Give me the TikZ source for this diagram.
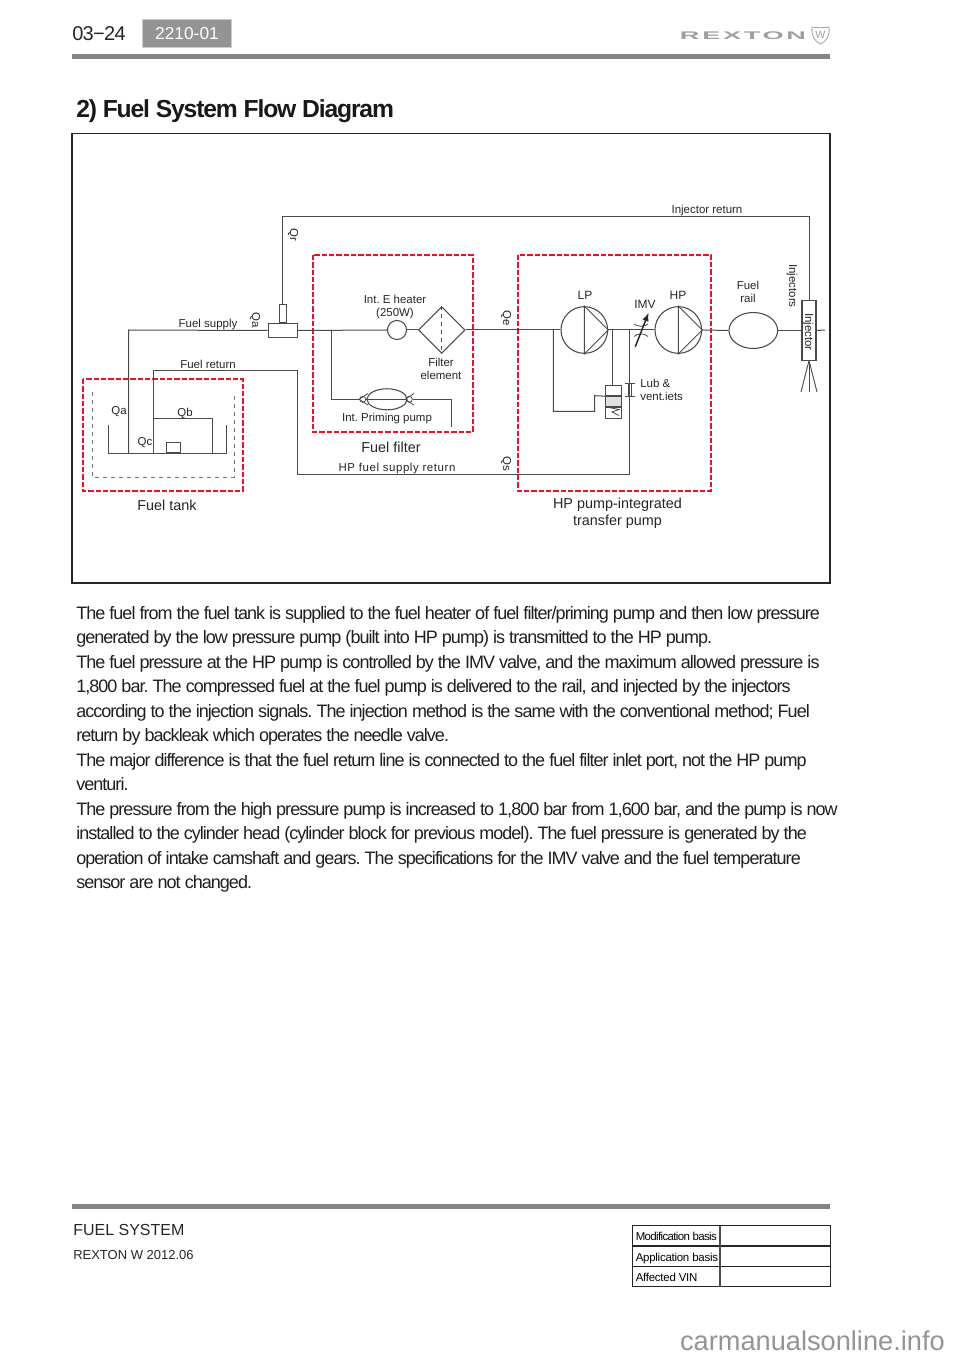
\documentclass[tikz,border=0pt]{standalone}
\usepackage{fontspec}
\usetikzlibrary{shapes.geometric}
\setmainfont{Liberation Sans}
\newfontfamily\bodyfont[LetterSpace=-5.35]{Liberation Sans}
\newfontfamily\titlefont[LetterSpace=-4.6]{Liberation Sans}
\definecolor{linegray}{HTML}{4A4A4A}
\definecolor{barred}{HTML}{E8122A}
\definecolor{bargray}{HTML}{858585}
\frenchspacing
\tikzstyle{pipe}=[linegray, line width=0.75pt]
\tikzstyle{redbox}=[barred, line width=1.7pt, dash pattern=on 4pt off 1.5pt]
\tikzstyle{small}=[inner sep=0pt, font=\fontsize{8.6}{10}\selectfont, text=black!85]
\tikzstyle{big}=[inner sep=0pt, font=\fontsize{10.8}{13}\selectfont, text=black!85]
\tikzstyle{pump}=[draw=linegray, line width=0.8pt, circle, inner sep=0pt, minimum size=35pt]
\tikzstyle{cell}=[inner sep=0pt, anchor=base west, font=\fontsize{8.6}{10}\selectfont\addfontfeature{LetterSpace=-2.2}]

\begin{document}
\begin{tikzpicture}[x=0.75pt, y=-0.75pt]
	\useasboundingbox (0,0) rectangle (960,1358);

	\fill[bargray] (72,54.5) rectangle (830,59.5);
	\fill[bargray] (72,1204) rectangle (830,1208.5);
	\node[inner sep=0pt, anchor=base west, font=\fontsize{15}{18}\selectfont\addfontfeature{LetterSpace=-3.5}, text=black!85] (pagenum) at (72,41) {03−24};
	\node[draw=black!20, fill=black!42, line width=0.8pt, text=white, inner sep=0pt, minimum width=67pt, minimum height=21pt, font=\fontsize{13}{16}\selectfont] (section) at (187,33.5) {2210-01};
	\node[inner sep=0pt, xscale=2.45, text=black!38, font=\fontsize{8.3}{10}\bfseries\selectfont\addfontfeature{LetterSpace=10}] (logotext) at (743,35.5) {REXTON};
	\draw[black!38, line width=0.6pt] (812,27) .. controls (817,28) and (824,28) .. (829,27) .. controls (830,35) and (827,41) .. (820.5,44) .. controls (814,41) and (811,35) .. (812,27) -- cycle;
	\node[inner sep=0pt, text=black!38, font=\fontsize{8}{10}\selectfont] (logomark) at (820.5,34.5) {W};
	\node[inner sep=0pt, anchor=base west, font=\fontsize{18.5}{22}\bfseries\selectfont\titlefont, text=black!90] (title) at (76,118) {2) Fuel System Flow Diagram};
	\draw[black!85, line width=1.1pt] (72,133.5) rectangle (830,583);

	\draw[redbox] (83,379) rectangle (243,491);
	\draw[redbox] (313,255) rectangle (473,432);
	\draw[redbox] (518,255) rectangle (711,491);

	\draw[black!55, line width=0.6pt, dashed] (92,392) -- (92,477) -- (234,477) -- (234,392);
	\draw[pipe] (108,425) -- (108,453) -- (226,453) -- (226,425);

	\coordinate (supplyfoot) at (128.5,453);
	\coordinate (returnfoot) at (153.5,453);
	\coordinate (supplycorner) at (128.5,330);
	\coordinate (returncorner) at (153.5,371);
	\coordinate (returnbend) at (297.5,371);
	\coordinate (returnlow) at (297.5,474);
	\coordinate (returnend) at (629.3,474);
	\coordinate (returnjoin) at (629.3,330);
	\coordinate (qbtop) at (153.5,418);
	\coordinate (qbcorner) at (212.7,418);
	\coordinate (qbfoot) at (212.7,453);
	\coordinate (primejoin) at (331.7,330);
	\coordinate (primecorner) at (331.7,399.3);
	\coordinate (primeright) at (451.7,399.3);
	\coordinate (primeend) at (451.7,426.7);
	\coordinate (bypassjoin) at (553.3,330);
	\coordinate (bypasscorner) at (553.3,411.3);
	\coordinate (valvejoin) at (612.3,330);
	\coordinate (injreturn) at (282.7,216.5);
	\coordinate (injcorner) at (809,216.5);
	\coordinate (lineend) at (825,330);

	\node[draw=linegray, line width=0.8pt, fill=white, inner sep=0pt, minimum width=22pt, minimum height=10pt] (tee) at (282.7,330.5) {};
	\node[draw=linegray, line width=0.8pt, inner sep=0pt, minimum width=5pt, minimum height=13.5pt, anchor=south] (teeup) at (tee.north) {};
	\node[draw=linegray, line width=0.8pt, inner sep=0pt, minimum width=11pt, minimum height=7.5pt, anchor=south] (strainer) at (173.5,453) {};
	\node[draw=linegray, line width=0.8pt, circle, inner sep=0pt, minimum size=14.3pt] (heater) at (397,330) {};
	\node[draw=linegray, line width=0.8pt, diamond, aspect=1, inner sep=0pt, minimum size=35pt] (filter) at (441.7,330) {};
	\node[draw=linegray, line width=0.8pt, ellipse, inner sep=0pt, minimum width=30pt, minimum height=15.8pt] (primer) at (387,399.3) {};
	\node[draw=linegray, line width=0.6pt, circle, inner sep=0pt, minimum size=4.5pt] (checkleft) at (362.7,399.3) {};
	\node[draw=linegray, line width=0.6pt, circle, inner sep=0pt, minimum size=4.5pt] (checkright) at (409.3,399.3) {};
	\node[pump] (lppump) at (584.3,330) {};
	\node[pump] (hppump) at (678.3,330) {};
	\node[draw=linegray, line width=0.8pt, ellipse, inner sep=0pt, minimum width=36.5pt, minimum height=27pt] (rail) at (753.3,330.5) {};
	\node[draw=linegray, line width=0.8pt, fill=white, inner sep=0pt, minimum width=10.5pt, minimum height=44.5pt] (injector) at (809,330.5) {};
	\node[draw=linegray, line width=0.6pt, inner sep=0pt, minimum width=11.5pt, minimum height=8pt, anchor=north] (valvetop) at (613.3,384.7) {};
	\node[draw=linegray, fill=black!12, line width=0.6pt, inner sep=0pt, minimum width=11.5pt, minimum height=7.5pt, anchor=north] (valvemid) at (valvetop.south) {};
	\node[draw=linegray, line width=0.6pt, inner sep=0pt, minimum width=11.5pt, minimum height=8.5pt, anchor=north] (valvelow) at (valvemid.south) {};

	\draw[pipe] (supplyfoot) -- (supplycorner) -- (tee.west);
	\draw[pipe] (returnfoot) -- (returncorner) -- (returnbend) -- (returnlow) -- (returnend) -- (returnjoin);
	\draw[pipe] (qbtop) -- (qbcorner) -- (qbfoot);
	\draw[pipe] (teeup.north) -- (injreturn) -- (injcorner) -- (injector.north);
	\draw[pipe] (tee.east) -- (heater.west);
	\draw[pipe] (heater.east) -- (filter.west);
	\draw[pipe] (filter.east) -- (lppump.west);
	\draw[pipe] (lppump.east) -- (hppump.west);
	\draw[pipe] (hppump.east) -- (rail.west);
	\draw[pipe] (rail.east) -- (injector.west);
	\draw[pipe] (injector.east) -- (lineend);
	\draw[pipe] (primejoin) -- (primecorner) -- (checkleft.west);
	\draw[pipe] (checkleft.east) -- (checkright.west);
	\draw[pipe] (checkright.east) -- (primeright) -- (primeend);
	\draw[pipe] (bypassjoin) -- (bypasscorner) -- (594.7,411.3) -- (594.7,395.7) -- (valvemid.north west);
	\draw[pipe] (valvejoin) -- (valvetop.north -| valvejoin);

	\draw[line width=0.6pt, linegray, dashed] (filter.north) -- (filter.south);
	\draw[line width=0.7pt, linegray] (lppump.north) -- (lppump.south) -- (lppump.east) -- cycle;
	\draw[line width=0.7pt, linegray] (hppump.north) -- (hppump.south) -- (hppump.east) -- cycle;
	\draw[line width=0.6pt, linegray] (368,393.5) -- (359,399.3) -- (368,405);
	\draw[line width=0.6pt, linegray] (414,393.5) -- (405,399.3) -- (414,405);
	\draw[line width=0.6pt, linegray] (609,407.5) -- (619,409.5) -- (612,412) -- (619,415.5);
	\draw[line width=0.6pt, linegray] (634,324) .. controls (637,327) and (645,327) .. (648,324);
	\draw[line width=0.6pt, linegray] (634,336.5) .. controls (637,333) and (645,333) .. (648,336.5);
	\draw[line width=0.6pt, linegray] (624.5,383) -- (634.5,383) (624.5,396) -- (634.5,396);
	\draw[line width=0.6pt, linegray] (628,383) -- (628,396) (631,383) -- (631,396);
	\draw[-latex, black!85, line width=1.1pt] (635.3,346.7) -- (648.5,313);
	\draw[line width=0.7pt, linegray] (injector.south) -- (801,392);
	\draw[line width=0.7pt, linegray] (injector.south) -- (809,392);
	\draw[line width=0.7pt, linegray] (injector.south) -- (817,392);

	\node[small] (lblinjreturn) at (707,210.5) {Injector return};
	\node[small, rotate=-90] (lblqr) at (293,235) {Qr};
	\node[small] (lblsupply) at (208,325) {Fuel supply};
	\node[small, rotate=-90] (lblqatee) at (255,320) {Qa};
	\node[small] (lblreturn) at (208,364) {Fuel return};
	\node[small] (lblqa) at (119,411.5) {Qa};
	\node[small] (lblqb) at (185,413) {Qb};
	\node[small] (lblqc) at (145,442.5) {Qc};
	\node[big] (lbltank) at (167,505) {Fuel tank};
	\node[small, align=center] (lblheater) at (395,307) {Int. E heater\\(250W)};
	\node[small, align=center] (lblelement) at (441,369) {Filter\\element};
	\node[small] (lblprimer) at (387,419) {Int. Priming pump};
	\node[big] (lblfilter) at (391,447) {Fuel filter};
	\node[small, font=\fontsize{8.6}{10}\selectfont\addfontfeature{LetterSpace=5}] (lblhpreturn) at (397,468.5) {HP fuel supply return};
	\node[small, rotate=-90] (lblqe) at (506,318) {Qe};
	\node[small, rotate=-90] (lblqs) at (506,464) {Qs};
	\node[small, font=\fontsize{9}{10}\selectfont] (lbllp) at (585,295) {LP};
	\node[small, font=\fontsize{9}{10}\selectfont] (lblhp) at (678,295) {HP};
	\node[small, font=\fontsize{9}{10}\selectfont] (lblimv) at (645,304) {IMV};
	\node[small, align=left, anchor=west] (lbllub) at (640,390) {Lub \&\\vent.iets};
	\node[small, align=center] (lblrail) at (748,292) {Fuel\\rail};
	\node[small, rotate=-90] (lblinjectors) at (792,286) {Injectors};
	\node[small, rotate=-90] (lblinjector) at (808,332) {Injector};
	\node[big, align=center, font=\fontsize{10.8}{12.8}\selectfont] (lblhppump) at (617.5,513.5) {HP pump-integrated\\transfer pump};

	\node[inner sep=0pt, anchor=north west, align=left, font=\fontsize{13.5}{18.375}\selectfont\bodyfont, text=black!88] (bodytext) at (76,605.8) {The fuel from the fuel tank is supplied to the fuel heater of fuel filter/priming pump and then low pressure\\
generated by the low pressure pump (built into HP pump) is transmitted to the HP pump.\\
The fuel pressure at the HP pump is controlled by the IMV valve, and the maximum allowed pressure is\\
1,800 bar. The compressed fuel at the fuel pump is delivered to the rail, and injected by the injectors\\
according to the injection signals. The injection method is the same with the conventional method; Fuel\\
return by backleak which operates the needle valve.\\
The major difference is that the fuel return line is connected to the fuel filter inlet port, not the HP pump\\
venturi.\\
The pressure from the high pressure pump is increased to 1,800 bar from 1,600 bar, and the pump is now\\
installed to the cylinder head (cylinder block for previous model). The fuel pressure is generated by the\\
operation of intake camshaft and gears. The specifications for the IMV valve and the fuel temperature\\
sensor are not changed.};

	\node[inner sep=0pt, anchor=base west, font=\fontsize{12}{14}\selectfont, text=black!85] (system) at (73,1235) {FUEL SYSTEM};
	\node[inner sep=0pt, anchor=base west, font=\fontsize{9.75}{12}\selectfont, text=black!85] (model) at (73,1259.5) {REXTON W 2012.06};

	\draw[black!85, line width=0.9pt] (632.3,1225.7) rectangle (830.7,1286.7);
	\draw[black!85, line width=0.9pt] (632.3,1246) -- (830.7,1246);
	\draw[black!85, line width=0.9pt] (632.3,1266.7) -- (830.7,1266.7);
	\draw[black!70, line width=1.1pt] (720,1225.7) -- (720,1286.7);
	\node[cell, font=\fontsize{8.6}{10}\selectfont\addfontfeature{LetterSpace=-5.5}] (modbasis) at (635.5,1240) {Modification basis};
	\node[cell] (appbasis) at (635.5,1261) {Application basis};
	\node[cell] (affected) at (635.5,1281) {Affected VIN};

	\node[inner sep=0pt, anchor=base east, font=\fontsize{20.4}{24}\selectfont, text=black!42] (watermark) at (945,1350.5) {carmanualsonline.info};
\end{tikzpicture}
\end{document}
